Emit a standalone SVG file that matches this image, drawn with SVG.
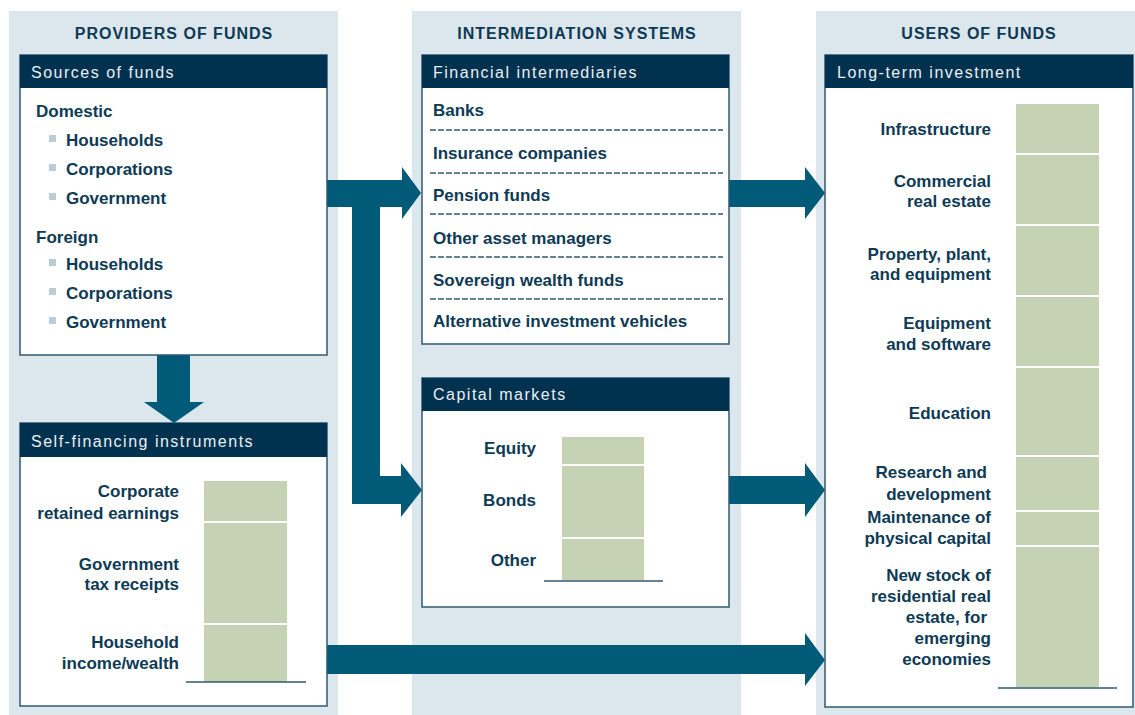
<svg xmlns="http://www.w3.org/2000/svg" width="1135" height="715" viewBox="0 0 1135 715">
<style>
.col{fill:#dce6ed}
.box{fill:#ffffff;stroke:#2f5871;stroke-width:1.5}
.hdr{fill:#00314f}
.ttl{font-family:"Liberation Sans",Arial,sans-serif;font-weight:bold;font-size:16px;fill:#0d3a55;letter-spacing:1px;text-anchor:middle}
.ht{font-family:"Liberation Sans",Arial,sans-serif;font-size:16px;fill:#e9eff3;letter-spacing:1.5px}
.lb{font-family:"Liberation Sans",Arial,sans-serif;font-weight:bold;font-size:17px;fill:#0d3a55}
.r{text-anchor:end}
.bul{fill:#b9ccd8}
.bar{fill:#c5d3b4}
.div{stroke:#ffffff;stroke-width:2}
.base{stroke:#2f5871;stroke-width:1.5}
.dash{stroke:#2f5871;stroke-width:1.3;stroke-dasharray:6 2}
.arw{fill:#005a78}
</style>
<rect width="1135" height="715" fill="#ffffff"/>
<g id="columns">
<rect class="col" x="9" y="11" width="329" height="704"/>
<rect class="col" x="412" y="11" width="329" height="704"/>
<rect class="col" x="816" y="11" width="319" height="704"/>
<text class="ttl" x="174" y="39">PROVIDERS OF FUNDS</text>
<text class="ttl" x="577" y="39">INTERMEDIATION SYSTEMS</text>
<text class="ttl" x="979" y="39">USERS OF FUNDS</text>
</g>
<g id="connectors">
<path class="arw" d="M327,180 H402 V167 L421,193 L402,219 V207 H380 V476 H401 V463 L422,490 L401,517 V504 H352 V207 H327 Z"/>
<path class="arw" d="M157,355 H190 V402 H204 L174,423 L144,402 H157 Z"/>
<path class="arw" d="M729,180 H805 V167 L825,193 L805,219 V207 H729 Z"/>
<path class="arw" d="M729,476 H805 V463 L825,490 L805,517 V504 H729 Z"/>
<path class="arw" d="M327,645 H805 V633 L825,660 L805,686 V674 H327 Z"/>
</g>
<g id="sources">
<rect class="box" x="20" y="55" width="307" height="300"/>
<rect class="hdr" x="20" y="55" width="307" height="33"/>
<text class="ht" x="31" y="78">Sources of funds</text>
<text class="lb" x="36" y="117">Domestic</text>
<rect class="bul" x="49" y="135" width="7" height="7"/><text class="lb" x="66" y="146">Households</text>
<rect class="bul" x="49" y="164" width="7" height="7"/><text class="lb" x="66" y="175">Corporations</text>
<rect class="bul" x="49" y="193" width="7" height="7"/><text class="lb" x="66" y="204">Government</text>
<text class="lb" x="36" y="243">Foreign</text>
<rect class="bul" x="49" y="259" width="7" height="7"/><text class="lb" x="66" y="270">Households</text>
<rect class="bul" x="49" y="288" width="7" height="7"/><text class="lb" x="66" y="299">Corporations</text>
<rect class="bul" x="49" y="317" width="7" height="7"/><text class="lb" x="66" y="328">Government</text>
</g>
<g id="self-financing">
<rect class="box" x="20" y="423" width="307" height="283"/>
<rect class="hdr" x="20" y="423" width="307" height="34"/>
<text class="ht" x="31" y="447">Self-financing instruments</text>
<rect class="bar" x="204" y="481" width="83" height="201"/>
<line class="div" x1="204" y1="522" x2="287" y2="522"/>
<line class="div" x1="204" y1="624" x2="287" y2="624"/>
<line class="base" x1="186" y1="682" x2="306" y2="682"/>
<text class="lb r" x="179" y="497">Corporate</text>
<text class="lb r" x="179" y="519">retained earnings</text>
<text class="lb r" x="179" y="570">Government</text>
<text class="lb r" x="179" y="590">tax receipts</text>
<text class="lb r" x="179" y="648">Household</text>
<text class="lb r" x="179" y="669">income/wealth</text>
</g>
<g id="financial-intermediaries">
<rect class="box" x="422" y="55" width="307" height="289"/>
<rect class="hdr" x="422" y="55" width="307" height="33"/>
<text class="ht" x="433" y="78">Financial intermediaries</text>
<text class="lb" x="433" y="116">Banks</text>
<line class="dash" x1="430" y1="130" x2="723" y2="130"/>
<text class="lb" x="433" y="159">Insurance companies</text>
<line class="dash" x1="430" y1="173" x2="723" y2="173"/>
<text class="lb" x="433" y="201">Pension funds</text>
<line class="dash" x1="430" y1="214" x2="723" y2="214"/>
<text class="lb" x="433" y="244">Other asset managers</text>
<line class="dash" x1="430" y1="257" x2="723" y2="257"/>
<text class="lb" x="433" y="286">Sovereign wealth funds</text>
<line class="dash" x1="430" y1="299" x2="723" y2="299"/>
<text class="lb" x="433" y="327">Alternative investment vehicles</text>
</g>
<g id="capital-markets">
<rect class="box" x="422" y="378" width="307" height="229"/>
<rect class="hdr" x="422" y="378" width="307" height="33"/>
<text class="ht" x="433" y="400">Capital markets</text>
<rect class="bar" x="562" y="437" width="82" height="143"/>
<line class="div" x1="562" y1="465" x2="644" y2="465"/>
<line class="div" x1="562" y1="538" x2="644" y2="538"/>
<line class="base" x1="544" y1="581" x2="663" y2="581"/>
<text class="lb r" x="536" y="454">Equity</text>
<text class="lb r" x="536" y="506">Bonds</text>
<text class="lb r" x="536" y="566">Other</text>
</g>
<g id="long-term-investment">
<rect class="box" x="825" y="55" width="308" height="652"/>
<rect class="hdr" x="825" y="55" width="308" height="33"/>
<text class="ht" x="837" y="78">Long-term investment</text>
<rect class="bar" x="1016" y="104" width="83" height="583"/>
<line class="div" x1="1016" y1="154" x2="1099" y2="154"/>
<line class="div" x1="1016" y1="225" x2="1099" y2="225"/>
<line class="div" x1="1016" y1="296" x2="1099" y2="296"/>
<line class="div" x1="1016" y1="367" x2="1099" y2="367"/>
<line class="div" x1="1016" y1="456" x2="1099" y2="456"/>
<line class="div" x1="1016" y1="511" x2="1099" y2="511"/>
<line class="div" x1="1016" y1="546" x2="1099" y2="546"/>
<line class="base" x1="998" y1="688" x2="1117" y2="688"/>
<text class="lb r" x="991" y="135">Infrastructure</text>
<text class="lb r" x="991" y="187">Commercial</text>
<text class="lb r" x="991" y="207">real estate</text>
<text class="lb r" x="991" y="260">Property, plant,</text>
<text class="lb r" x="991" y="280">and equipment</text>
<text class="lb r" x="991" y="329">Equipment</text>
<text class="lb r" x="991" y="350">and software</text>
<text class="lb r" x="991" y="419">Education</text>
<text class="lb r" x="987" y="478">Research and</text>
<text class="lb r" x="991" y="500">development</text>
<text class="lb r" x="991" y="523">Maintenance of</text>
<text class="lb r" x="991" y="544">physical capital</text>
<text class="lb r" x="991" y="581">New stock of</text>
<text class="lb r" x="991" y="602">residential real</text>
<text class="lb r" x="987" y="623">estate, for</text>
<text class="lb r" x="991" y="644">emerging</text>
<text class="lb r" x="991" y="665">economies</text>
</g>
</svg>
